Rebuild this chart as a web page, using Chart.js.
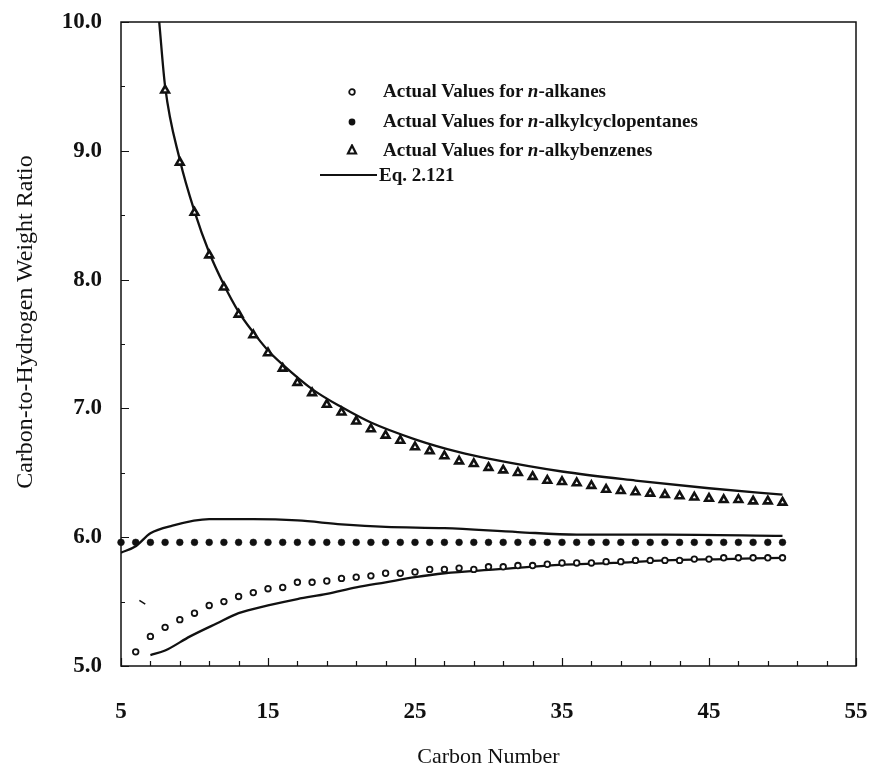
<!DOCTYPE html>
<html>
<head>
<meta charset="utf-8">
<title>Carbon-to-Hydrogen Weight Ratio vs Carbon Number</title>
<script src="https://cdn.jsdelivr.net/npm/chart.js@4.4.1/dist/chart.umd.min.js"></script>
<style>
  html, body { margin: 0; padding: 0; background: #fff; }
  #wrap { position: relative; width: 873px; height: 768px; }
  #legend { position: absolute; left: 0; top: 0; width: 873px; height: 768px; pointer-events: none;
            font-family: "Liberation Serif", "Times New Roman", serif; font-weight: bold; font-size: 19px; color: #111; }
  #legend svg { position: absolute; }
  .lg-text { position: absolute; white-space: nowrap; line-height: 20px; }
  #ytitle { position: absolute; left: 24px; top: 322px; transform: translate(-50%, -50%) rotate(-90deg);
            white-space: nowrap; font-family: "Liberation Serif", "Times New Roman", serif; font-size: 24px;
            line-height: 24px; color: #111; }
</style>
</head>
<body>
<div id="wrap">
  <canvas id="chart"></canvas>
  <div id="ytitle">Carbon-to-Hydrogen Weight Ratio</div>
  <div id="legend">
    <svg style="left:346px;top:86px" width="12" height="12"><circle cx="6" cy="6" r="2.8" fill="#fff" stroke="#111" stroke-width="1.8"/></svg>
    <div class="lg-text" style="left:383px;top:81px">Actual Values for <i>n</i>-alkanes</div>
    <svg style="left:346px;top:116px" width="12" height="12"><circle cx="6" cy="6" r="3.4" fill="#111"/></svg>
    <div class="lg-text" style="left:383px;top:111px">Actual Values for <i>n</i>-alkylcyclopentanes</div>
    <svg style="left:346px;top:144px" width="12" height="12"><polygon points="6,1.5 10,9.5 2,9.5" fill="#fff" stroke="#111" stroke-width="2.2"/></svg>
    <div class="lg-text" style="left:383px;top:140px">Actual Values for <i>n</i>-alkybenzenes</div>
    <svg style="left:320px;top:170px" width="58" height="10"><line x1="0" y1="5" x2="57" y2="5" stroke="#111" stroke-width="2"/></svg>
    <div class="lg-text" style="left:379px;top:165px">Eq. 2.121</div>
  </div>
</div>
<script>
// ═══ DATA ═══
const alkaneCarbon = [6, 7, 8, 9, 10, 11, 12, 13, 14, 15, 16, 17, 18, 19, 20, 21, 22, 23, 24, 25, 26, 27, 28,
  29, 30, 31, 32, 33, 34, 35, 36, 37, 38, 39, 40, 41, 42, 43, 44, 45, 46, 47, 48, 49, 50];
const alkaneRatio = [5.11, 5.23, 5.30, 5.36, 5.41, 5.47, 5.50, 5.54, 5.57, 5.60, 5.61, 5.65, 5.65, 5.66, 5.68,
  5.69, 5.70, 5.72, 5.72, 5.73, 5.75, 5.75, 5.76, 5.75, 5.77, 5.77, 5.78, 5.78, 5.79, 5.80, 5.80, 5.80, 5.81,
  5.81, 5.82, 5.82, 5.82, 5.82, 5.83, 5.83, 5.84, 5.84, 5.84, 5.84, 5.84];

const cyclopentaneCarbon = [5, 6, 7, 8, 9, 10, 11, 12, 13, 14, 15, 16, 17, 18, 19, 20, 21, 22, 23, 24, 25, 26,
  27, 28, 29, 30, 31, 32, 33, 34, 35, 36, 37, 38, 39, 40, 41, 42, 43, 44, 45, 46, 47, 48, 49, 50];
const cyclopentaneRatio = [5.96, 5.96, 5.96, 5.96, 5.96, 5.96, 5.96, 5.96, 5.96, 5.96, 5.96, 5.96, 5.96, 5.96,
  5.96, 5.96, 5.96, 5.96, 5.96, 5.96, 5.96, 5.96, 5.96, 5.96, 5.96, 5.96, 5.96, 5.96, 5.96, 5.96, 5.96, 5.96,
  5.96, 5.96, 5.96, 5.96, 5.96, 5.96, 5.96, 5.96, 5.96, 5.96, 5.96, 5.96, 5.96, 5.96];

const benzeneCarbon = [8, 9, 10, 11, 12, 13, 14, 15, 16, 17, 18, 19, 20, 21, 22, 23, 24, 25, 26, 27, 28, 29,
  30, 31, 32, 33, 34, 35, 36, 37, 38, 39, 40, 41, 42, 43, 44, 45, 46, 47, 48, 49, 50];
const benzeneRatio = [9.47, 8.91, 8.52, 8.19, 7.94, 7.73, 7.57, 7.43, 7.31, 7.20, 7.12, 7.03, 6.97, 6.90, 6.84,
  6.79, 6.75, 6.70, 6.67, 6.63, 6.59, 6.57, 6.54, 6.52, 6.50, 6.47, 6.44, 6.43, 6.42, 6.40, 6.37, 6.36, 6.35,
  6.34, 6.33, 6.32, 6.31, 6.30, 6.29, 6.29, 6.28, 6.28, 6.27];

// Eq. 2.121 curves
const eqBenzeneX = [7.6, 8, 9, 10, 11, 12, 13, 14, 15, 16, 18, 20, 22, 25, 28, 30, 35, 40, 45, 50];
const eqBenzeneY = [10.0, 9.50, 8.93, 8.53, 8.21, 7.96, 7.75, 7.59, 7.45, 7.34, 7.15, 7.01, 6.89, 6.76, 6.66,
  6.61, 6.51, 6.44, 6.38, 6.33];
const eqCyclopentaneX = [5, 6, 7, 8.5, 11, 14, 17, 20, 23, 27, 32, 36, 42, 50];
const eqCyclopentaneY = [5.88, 5.93, 6.03, 6.09, 6.14, 6.14, 6.13, 6.10, 6.08, 6.07, 6.04, 6.02, 6.02, 6.01];
const eqAlkaneX = [7, 8, 9.7, 11.5, 13, 15, 17, 19, 21, 23, 25, 27, 30.5, 34, 38.5, 42, 46, 50];
const eqAlkaneY = [5.085, 5.12, 5.23, 5.33, 5.41, 5.47, 5.52, 5.56, 5.61, 5.65, 5.69, 5.72, 5.75, 5.78, 5.80,
  5.82, 5.83, 5.84];
const strayX = [6.25, 6.65];
const strayY = [5.51, 5.48];

const xTickValues = [5, 15, 25, 35, 45, 55];
const yTickValues = [5, 6, 7, 8, 9, 10];

// ═══ HELPERS ═══
const INK = '#111';
const SERIF = '"Liberation Serif", "Times New Roman", serif';
const pts = (xs, ys) => xs.map((x, i) => ({ x: x, y: ys[i] }));

const xMinor = [];
for (let v = 5; v <= 55; v += 2) xMinor.push(v);
const yMinor = [];
for (let v = 5; v <= 10; v += 0.5) yMinor.push(v);

function eqLine(xs, ys) {
  return {
    type: 'line', data: pts(xs, ys), borderColor: INK, borderWidth: 2.3,
    pointRadius: 0, fill: false, cubicInterpolationMode: 'monotone', order: 2
  };
}

// inward tick marks + full frame
const frameTicks = {
  id: 'frameTicks',
  afterDatasetsDraw(chart) {
    const { ctx, chartArea: a, scales: { x, y } } = chart;
    ctx.save();
    ctx.strokeStyle = INK;
    ctx.lineWidth = 1.5;
    ctx.strokeRect(a.left, a.top, a.right - a.left, a.bottom - a.top);
    ctx.lineWidth = 1.2;
    ctx.beginPath();
    xMinor.forEach(v => {
      const px = Math.round(x.getPixelForValue(v)) + 0.5;
      const len = xTickValues.includes(v) ? 8 : 5;
      ctx.moveTo(px, a.bottom);
      ctx.lineTo(px, a.bottom - len);
    });
    yMinor.forEach(v => {
      const py = Math.round(y.getPixelForValue(v)) + 0.5;
      const len = yTickValues.includes(v) ? 8 : 4;
      ctx.moveTo(a.left, py);
      ctx.lineTo(a.left + len, py);
    });
    ctx.stroke();
    ctx.restore();
  }
};

// label gap done with invisible tick marks so the layout padding stays put
const hiddenTicks = len => ({ display: true, drawOnChartArea: false, drawTicks: true, tickLength: len, tickColor: 'rgba(0,0,0,0)' });

// ═══ CHART ═══
new Chart(document.getElementById('chart'), {
  type: 'scatter',
  data: {
    datasets: [
      { label: 'Actual Values for n-alkanes', data: pts(alkaneCarbon, alkaneRatio), pointStyle: 'circle',
        pointRadius: 2.8, pointBorderWidth: 1.8, pointBackgroundColor: '#fff', pointBorderColor: INK, clip: 8, order: 1 },
      { label: 'Actual Values for n-alkylcyclopentanes', data: pts(cyclopentaneCarbon, cyclopentaneRatio), pointStyle: 'circle',
        pointRadius: 3.4, pointBorderWidth: 0.5, pointBackgroundColor: INK, pointBorderColor: INK, clip: 8, order: 1 },
      { label: 'Actual Values for n-alkybenzenes', data: pts(benzeneCarbon, benzeneRatio), pointStyle: 'triangle',
        pointRadius: 4.4, pointBorderWidth: 2.6, pointBackgroundColor: '#fff', pointBorderColor: INK, clip: 8, order: 1 },
      Object.assign(eqLine(eqBenzeneX, eqBenzeneY), { label: 'Eq. 2.121' }),
      eqLine(eqCyclopentaneX, eqCyclopentaneY),
      eqLine(eqAlkaneX, eqAlkaneY),
      Object.assign(eqLine(strayX, strayY), { borderWidth: 1.5 })
    ]
  },
  options: {
    responsive: true,
    maintainAspectRatio: false,
    animation: false,
    layout: { padding: { top: 22, right: 17, left: 0, bottom: 0 } },
    plugins: { legend: { display: false }, tooltip: { enabled: false } },
    scales: {
      x: {
        type: 'linear', min: 5, max: 55,
        grid: hiddenTicks(32), border: { display: false },
        afterBuildTicks: s => { s.ticks = xTickValues.map(v => ({ value: v })); },
        afterFit: s => { s.height = 102; },
        ticks: { font: { family: SERIF, size: 23, weight: 'bold' }, color: INK, padding: 0, maxRotation: 0, autoSkip: false },
        title: { display: true, text: 'Carbon Number', color: INK, padding: { top: 0, bottom: 0 },
                 font: { family: SERIF, size: 22, lineHeight: 1 } }
      },
      y: {
        type: 'linear', min: 5, max: 10,
        grid: hiddenTicks(19), border: { display: false },
        afterBuildTicks: s => { s.ticks = yTickValues.map(v => ({ value: v })); },
        afterFit: s => { s.width = 121; },
        ticks: { font: { family: SERIF, size: 23, weight: 'bold' }, color: INK, padding: 0,
                 callback: v => v.toFixed(1) }
      }
    }
  },
  plugins: [frameTicks]
});
</script>
</body>
</html>
